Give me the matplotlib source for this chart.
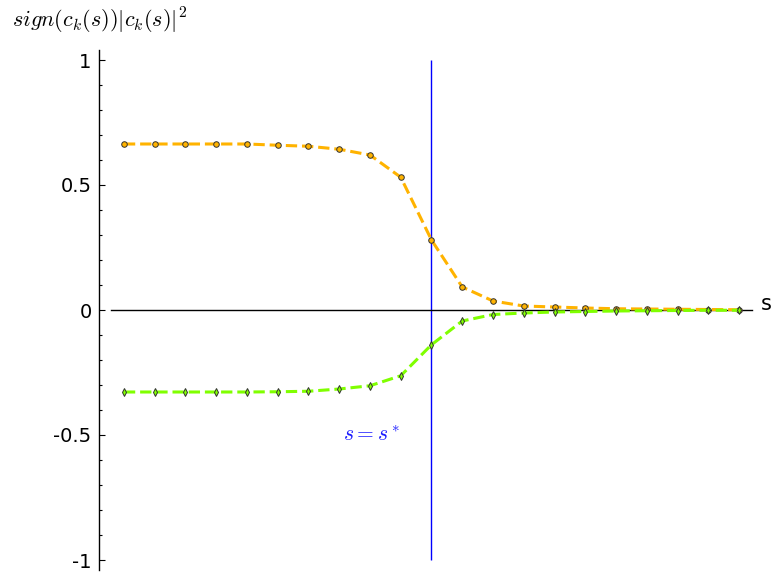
import matplotlib
matplotlib.use("Agg")
import matplotlib.pyplot as plt
from matplotlib.ticker import MultipleLocator, FuncFormatter

# sample index along s, critical point s* at index 10
s = list(range(21))
s_star = 10

c_plus = [0.664, 0.664, 0.664, 0.664, 0.664, 0.659, 0.655, 0.643, 0.620, 0.531,
          0.280, 0.092, 0.036, 0.016, 0.012, 0.008, 0.005, 0.004, 0.003, 0.002, 0.001]
c_minus = [-0.328, -0.328, -0.328, -0.328, -0.328, -0.327, -0.325, -0.316, -0.303, -0.263,
           -0.139, -0.044, -0.018, -0.012, -0.008, -0.006, -0.004, -0.003, -0.002, -0.001, -0.001]

y_ticks = [-1, -0.5, 0, 0.5, 1]

plt.rcParams["mathtext.fontset"] = "cm"
plt.rcParams["axes.unicode_minus"] = False

fig = plt.figure(figsize=(7.83, 5.8), dpi=100)
ax = fig.add_axes([111 / 783, 10 / 580, 641 / 783, 520 / 580])

ax.plot(s, c_plus, ls="--", lw=2.2, color="#ffb300", marker="o", ms=4.0,
        mfc="#ffb300", mec="#333333", mew=0.7, zorder=3)
ax.plot(s, c_minus, ls="--", lw=2.2, color="#80ff00", marker="d", ms=4.0,
        mfc="#80ff00", mec="#333333", mew=0.7, zorder=3)
ax.vlines(s_star, -1, 1, color="#0000ff", lw=1.0, zorder=2)

ax.set_xlim(-0.42, 20.42)
ax.set_ylim(-1.04, 1.04)

for side in ("top", "right"):
    ax.spines[side].set_visible(False)
ax.spines["left"].set_position(("outward", 9))
ax.spines["bottom"].set_position(("data", 0))
ax.spines["left"].set_linewidth(1.0)
ax.spines["bottom"].set_linewidth(1.0)

ax.set_xticks([])
ax.set_yticks(y_ticks)
ax.yaxis.set_minor_locator(MultipleLocator(0.1))
ax.yaxis.set_major_formatter(FuncFormatter(lambda v, p: "%g" % v))
ax.tick_params(axis="y", which="major", direction="in", length=4.5, width=0.8,
               labelsize=14, pad=5)
ax.tick_params(axis="y", which="minor", direction="in", length=2.2, width=0.8)

fig.text(12 / 783, 1 - 21 / 580, r"$sign(c_k(s))|c_k(s)|^2$", fontsize=16,
         ha="left", va="center")
fig.text(766 / 783, 1 - 304 / 580, "s", fontsize=15, ha="center", va="center")
ax.text(s_star - 2.88, -0.5, r"$s=s^*$", color="#1a1aff", fontsize=15.5,
        ha="left", va="center")

fig.savefig("out.png", dpi=100)
